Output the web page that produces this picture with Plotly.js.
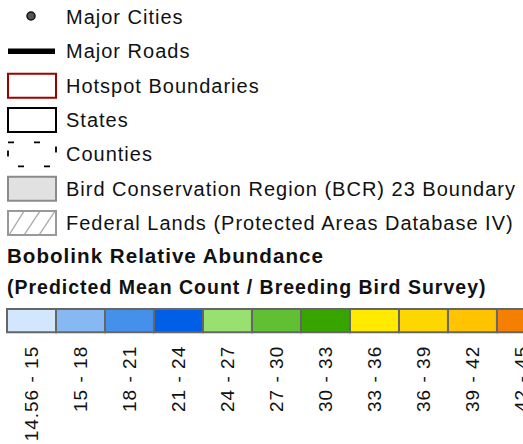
<!DOCTYPE html>
<html><head><meta charset="utf-8">
<script src="https://cdn.plot.ly/plotly-3.0.1.min.js"></script>
<style>
body{margin:0;background:#fff}
#chart{width:523px;height:444px}
.annotation-text{letter-spacing:1px}
.x2tick text{letter-spacing:1px}
</style>
</head><body><div id="chart"></div>
<script>
// Legend entries (map layers)
const legendLabels = ["Major Cities","Major Roads","Hotspot Boundaries","States","Counties",
  "Bird Conservation Region (BCR) 23 Boundary","Federal Lands (Protected Areas Database IV)"];
const titleLines = ["Bobolink Relative Abundance","(Predicted Mean Count / Breeding Bird Survey)"];
// Abundance classes
const classLabels = ["14.56 - 15","15 - 18","18 - 21","21 - 24","24 - 27","27 - 30","30 - 33",
  "33 - 36","36 - 39","39 - 42","42 - 45"];
const classColors = ["#d2e7fd","#86b9f2","#4490ea","#005fe6","#98e070","#60bf33","#38a400",
  "#ffea00","#ffd700","#ffc300","#f57f00"];
const classSwatch = [1,1,1,1,1,1,1,1,1,1,1];

const FONT = "Liberation Sans, Arial, sans-serif";
const rowY = legendLabels.map((_, i) => 17 + 34.35 * i);
const sx0 = 8, sx1 = 56, sh = 12;

const shapes = [];
// Major Roads
shapes.push({type:'line', xref:'x', yref:'y', x0:sx0, x1:55, y0:rowY[1], y1:rowY[1], line:{color:'#000', width:5.5}});
// Hotspot
shapes.push({type:'rect', xref:'x', yref:'y', x0:sx0, x1:sx1, y0:rowY[2]-sh, y1:rowY[2]+sh, line:{color:'#a00000', width:2}});
// States
shapes.push({type:'rect', xref:'x', yref:'y', x0:sx0, x1:sx1, y0:rowY[3]-sh, y1:rowY[3]+sh, line:{color:'#000', width:2}});
// Counties
shapes.push({type:'rect', xref:'x', yref:'y', x0:sx0, x1:sx1, y0:rowY[4]-sh, y1:rowY[4]+sh, line:{color:'#000', width:1.8, dash:'6px,20px'}});
// BCR
shapes.push({type:'rect', xref:'x', yref:'y', x0:sx0, x1:sx1, y0:rowY[5]-sh, y1:rowY[5]+sh, fillcolor:'#e1e1e1', line:{color:'#8a8a8a', width:2}});
// Federal lands hatch
const fy = rowY[6];
[[9,24],[24,40],[39,55]].forEach(([a,b]) => {
  shapes.push({type:'line', xref:'x', yref:'y', x0:a, x1:b, y0:fy+sh, y1:fy-sh, line:{color:'#aaa', width:1.3}});
});
shapes.push({type:'rect', xref:'x', yref:'y', x0:sx0, x1:sx1, y0:fy-sh, y1:fy+sh, line:{color:'#999', width:2}});

const annotations = legendLabels.map((t, i) => ({
  text: t, xref:'x', yref:'y', x:64, y:rowY[i], xanchor:'left', yanchor:'middle', showarrow:false,
  font:{family:FONT, size:20, color:'#111'}
}));
annotations.push({text:titleLines[0], xref:'x', yref:'y', x:5, y:255.5, xanchor:'left', yanchor:'middle', showarrow:false,
  font:{family:FONT, size:20.6, color:'#111', weight:'bold'}});
annotations.push({text:titleLines[1], xref:'x', yref:'y', x:5, y:286.5, xanchor:'left', yanchor:'middle', showarrow:false,
  font:{family:FONT, size:19.5, color:'#111', weight:'bold'}});

const traces = [
  {type:'scatter', mode:'markers', x:[31], y:[16], xaxis:'x', yaxis:'y', hoverinfo:'skip',
   marker:{size:8, color:'#555', line:{color:'#111', width:1.5}}},
  {type:'bar', x:classLabels, y:classSwatch, xaxis:'x2', yaxis:'y2', hoverinfo:'skip',
   marker:{color:classColors, line:{color:'#666', width:2}}}
];

const H = 444;
const layout = {
  width:523, height:444, margin:{l:0,r:0,t:0,b:0}, showlegend:false,
  paper_bgcolor:'#fff', plot_bgcolor:'rgba(0,0,0,0)', bargap:0,
  xaxis:{domain:[0,1], range:[0,523], visible:false, fixedrange:true},
  yaxis:{domain:[0,1], range:[444,0], visible:false, fixedrange:true},
  xaxis2:{domain:[0,1], anchor:'y2', type:'category', range:[-0.643, 10.031], tickangle:-90,
    showgrid:false, zeroline:false, showline:false, ticks:'', ticklabelstandoff:7,
    tickfont:{family:FONT, size:19, color:'#111'}},
  yaxis2:{domain:[(H-334)/H, (H-307)/H], anchor:'x2', range:[-0.073, 1.086], visible:false},
  shapes, annotations
};
Plotly.newPlot('chart', traces, layout, {staticPlot:true, displayModeBar:false});
</script>
</body></html>
